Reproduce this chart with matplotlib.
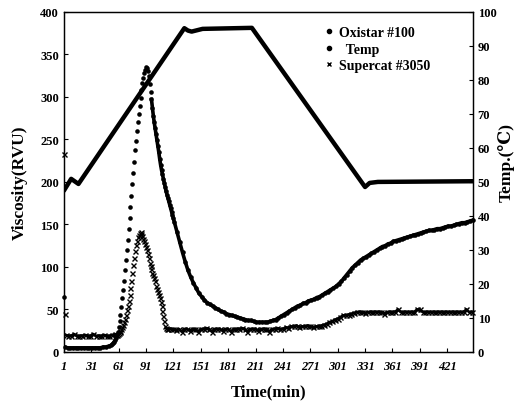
import numpy as np
import matplotlib
matplotlib.use("Agg")
import matplotlib.pyplot as plt
from matplotlib.lines import Line2D

plt.rcParams['font.family'] = ['Liberation Serif', 'DejaVu Serif']
plt.rcParams['font.weight'] = 'bold'

# DATA, time in min, viscosity in RVU, temp in C
# Oxistar #100
ox_start = [65]                                   # t = 1
ox_flat = [6, 5, 5, 5, 5, 5, 5, 5, 5, 5, 5, 5, 5, 5, 6, 6, 7, 8]   # t = 2.. step 3
ox_peak = [9, 10, 12, 14, 17, 20, 24, 29, 36, 44,                  # t = 54.. step 1
           53, 63, 73, 84, 96, 108, 120, 132, 145, 158,
           171, 184, 197, 210, 224, 237, 248, 260, 271, 280,
           289, 299, 308, 316, 322, 328, 332, 335, 334, 330,
           324, 315, 306, 297, 287, 278, 270, 263, 256, 249,
           242, 235, 227, 220, 214, 209, 204, 199, 194, 189,
           185, 181, 177, 173, 169, 165, 161, 157]
ox_tail = [153, 141, 129, 117, 106, 96, 88, 81, 75, 69,            # t = 122.. step 3
           65, 61, 58, 56, 54, 52, 50, 48, 47, 45,
           44, 43, 42, 41, 40, 39, 38, 37, 37, 36,
           35, 35, 35, 35, 35, 36, 37, 38, 40, 42,
           44, 46, 48, 50, 52, 54, 55, 57, 58, 60,
           61, 62, 64, 65, 67, 69, 71, 73, 75, 77,
           80, 83, 87, 91, 95, 99, 102, 105, 108, 110,
           112, 114, 116, 118, 120, 122, 124, 125, 127, 128,
           130, 131, 132, 133, 134, 135, 136, 137, 138, 139,
           140, 141, 142, 143, 143, 144, 145, 145, 146, 147,
           148, 148, 149, 150, 151, 152, 152, 153, 154, 155]

# Supercat #3050
sc_start = [233, 45]                              # t = 1, 2
sc_flat = [20, 19, 19, 21, 19, 19, 19, 20, 19, 19,                  # t = 3.. step 3
           21, 19, 19, 19, 20, 19, 19, 20, 21]
sc_peak = [20, 20, 21, 22, 23, 25, 27, 29, 32, 35,                  # t = 58.. step 1
           39, 44, 49, 54, 60, 67, 75, 84, 93, 102,
           111, 119, 126, 131, 135, 138, 140, 141, 139, 136,
           133, 130, 127, 124, 120, 115, 110, 105, 101, 97,
           93, 90, 87, 83, 78, 74, 70, 67, 63, 59,
           54, 48, 42, 36, 31, 28, 27, 27]
sc_tail = [27, 27, 26, 27, 24, 27, 27, 25, 27, 27,                  # t = 118.. step 3
           24, 27, 27, 28, 27, 24, 27, 27, 27, 25,
           27, 27, 24, 27, 27, 27, 28, 27, 24, 27,
           27, 27, 25, 27, 27, 27, 24, 27, 27, 28,
           27, 27, 29, 28,
           30, 30, 31, 29, 30, 30, 31, 30, 29, 30,
           30, 31, 32, 33, 35, 36, 38, 39, 41, 43,
           43, 44, 45, 46, 47, 47, 47, 46, 47, 47,
           47, 47, 47, 47, 45, 47, 47, 47, 47, 50,
           47, 47, 47, 47, 47, 47, 50, 50, 47, 47,
           47, 47, 47, 47, 47, 47, 47, 47, 47, 47,
           47, 47, 47, 47, 50, 47, 47]

# Temp (right axis)
temp_t = [1, 9, 17, 133, 137, 141, 153, 207, 331, 336, 345, 449]
temp_v = [47.4, 50.9, 49.4, 95.2, 94.5, 94.2, 95.0, 95.3, 48.5, 49.7, 50.0, 50.2]

xticks = list(range(1, 422, 30))


def times(start, step, vals):
    return start + step * np.arange(len(vals))


t_ox = np.concatenate([[1], times(2, 3, ox_flat), times(54, 1, ox_peak), times(122, 3, ox_tail)])
v_ox = np.array(ox_start + ox_flat + ox_peak + ox_tail)
t_sc = np.concatenate([[1, 2], times(3, 3, sc_flat), times(58, 1, sc_peak), times(118, 3, sc_tail)])
v_sc = np.array(sc_start + sc_flat + sc_peak + sc_tail)

# PLOT
fig = plt.figure(figsize=(5.15, 4.02), dpi=100)
ax = fig.add_axes([0.124, 0.122, 0.794, 0.846])
ax2 = ax.twinx()

ax.plot(t_ox, v_ox, 'o', color='black', ms=3.3, mew=0, clip_on=False)
# the slow parts of Oxistar look like a solid band
ax.plot(t_ox[t_ox >= 97], v_ox[t_ox >= 97], '-', color='black', lw=2.6)
ax.plot(t_ox[(t_ox >= 2) & (t_ox <= 58)], v_ox[(t_ox >= 2) & (t_ox <= 58)], '-', color='black', lw=2.4)

ax.plot(t_sc, v_sc, 'x', color='black', ms=3.6, mew=1.0, clip_on=False)
# solid look of the flat parts of Supercat
ax.plot(t_sc[t_sc >= 113], v_sc[t_sc >= 113], '-', color='black', lw=2.0)
ax.plot(t_sc[(t_sc >= 3) & (t_sc <= 60)], v_sc[(t_sc >= 3) & (t_sc <= 60)], '-', color='black', lw=2.0)

ax2.plot(temp_t, temp_v, '-', color='black', lw=3.2, solid_capstyle='round')

ax.set_xlim(1, 449)
ax.set_ylim(0, 400)
ax2.set_ylim(0, 100)
ax.set_yticks(range(0, 401, 50))
ax2.set_yticks(range(0, 101, 10))
ax.set_xticks(xticks)
ax.set_xticklabels([str(x) for x in xticks], fontstyle='italic', fontsize=8.5)

ax.tick_params(axis='both', direction='in', length=3, width=0.8, labelsize=9)
ax.tick_params(axis='x', pad=6)
ax2.tick_params(axis='y', direction='in', length=3, width=0.8, labelsize=9)
for a in (ax, ax2):
    for s in a.spines.values():
        s.set_linewidth(0.9)

ax.set_ylabel("Viscosity(RVU)", fontsize=12.5, fontweight='bold')
ax.yaxis.set_label_coords(-0.089, 0.5)
ax2.set_ylabel("Temp.(℃)", fontsize=12.5, fontweight='bold', rotation=90)
ax2.yaxis.set_label_coords(1.062, 0.56)
ax.set_xlabel("Time(min)", fontsize=12, fontweight='bold')
ax.xaxis.set_label_coords(0.5, -0.093)

handles = [
    Line2D([], [], marker='o', ls='', color='black', ms=3),
    Line2D([], [], marker='o', ls='', color='black', ms=3),
    Line2D([], [], marker='x', ls='', color='black', ms=3, mew=1),
]
ax.legend(handles, ["Oxistar #100", "  Temp", "Supercat #3050"],
          loc='upper left', bbox_to_anchor=(0.618, 0.95), bbox_transform=fig.transFigure,
          frameon=False, handlelength=0.6, handletextpad=0.4,
          labelspacing=0.25, borderpad=0, prop={'weight': 'bold', 'size': 10})

plt.savefig("out.png", dpi=100)
